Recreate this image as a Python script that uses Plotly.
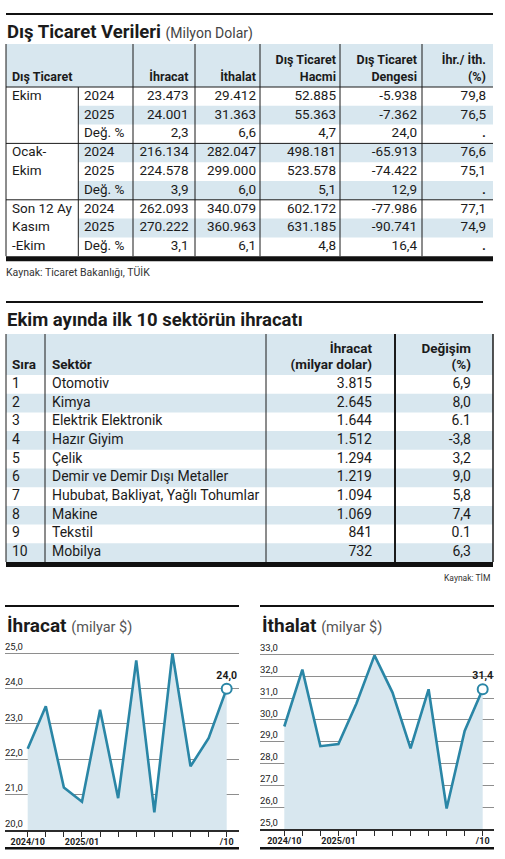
import plotly.graph_objects as go

W, H = 505, 859
FONT = "Roboto"
INK = "#1b1b1b"
BLUE = "#d8e7ef"
LINE = "#2a86a6"

# ---- Dış Ticaret Verileri (milyon dolar)
donem = ["Ekim", "", "", "Ocak-", "Ekim", "", "Son 12 Ay", "Kasım", "-Ekim"]
yil = ["2024", "2025", "Değ. %"] * 3
ihracat = ["23.473", "24.001", "2,3", "216.134", "224.578", "3,9", "262.093", "270.222", "3,1"]
ithalat = ["29.412", "31.363", "6,6", "282.047", "299.000", "6,0", "340.079", "360.963", "6,1"]
hacim = ["52.885", "55.363", "4,7", "498.181", "523.578", "5,1", "602.172", "631.185", "4,8"]
denge = ["-5.938", "-7.362", "24,0", "-65.913", "-74.422", "12,9", "-77.986", "-90.741", "16,4"]
ihr_ith = ["79,8", "76,5", ".", "76,6", "75,1", ".", "77,1", "74,9", "."]
baslik_ust = ["", "", "Dış Ticaret", "Dış Ticaret", "İhr./ İth."]
baslik_alt = ["İhracat", "İthalat", "Hacmi", "Dengesi", "(%)"]

# ---- Ekim ayında ilk 10 sektörün ihracatı
sira = ["1", "2", "3", "4", "5", "6", "7", "8", "9", "10"]
sektor = ["Otomotiv", "Kimya", "Elektrik Elektronik", "Hazır Giyim", "Çelik",
          "Demir ve Demir Dışı Metaller", "Hububat, Bakliyat, Yağlı Tohumlar",
          "Makine", "Tekstil", "Mobilya"]
sektor_ihracat = ["3.815", "2.645", "1.644", "1.512", "1.294", "1.219", "1.094", "1.069", "841", "732"]
sektor_degisim = ["6,9", "8,0", "6.1", "-3,8", "3,2", "9,0", "5,8", "7,4", "0.1", "6,3"]

# ---- aylık grafikler (milyar $)
ay_etiket = ["2024/10", "", "", "2025/01", "", "", "", "", "", "", "", "/10"]
ihracat_aylik = [22.3, 23.5, 21.2, 20.8, 23.4, 20.9, 24.8, 20.5, 25.0, 21.8, 22.6, 24.0]
ithalat_aylik = [29.7, 32.3, 28.8, 28.9, 30.75, 32.95, 31.25, 28.7, 31.4, 25.95, 29.5, 31.4]

fig = go.Figure()
shapes = []


def text(xs, ys, texts, pos, size, bold=False, color=INK):
    fig.add_trace(go.Scatter(
        x=xs, y=ys, text=texts, mode="text", textposition=pos,
        textfont=dict(family=FONT, size=size, color=color, weight="bold" if bold else "normal"),
        hoverinfo="skip", showlegend=False, xaxis="x", yaxis="y", cliponaxis=False))


def rect(x0, x1, y0, y1, color, layer="below"):
    shapes.append(dict(type="rect", xref="x", yref="y", x0=x0, x1=x1, y0=y0, y1=y1,
                       fillcolor=color, line=dict(width=0), layer=layer))


def seg(x0, x1, y0, y1, width=1, color=INK):
    shapes.append(dict(type="line", xref="x", yref="y", x0=x0, x1=x1, y0=y0, y1=y1,
                       line=dict(color=color, width=width), layer="above"))


# ================= table 1
L, R = 6, 493
t1_top, t1_head, t1_row = 44, 87, 18.8
t1_cols = [6, 78.3, 133, 195, 260, 340, 422]
t1_right = [188.5, 256, 336, 417, 486]
n1 = len(yil)
t1_bot = t1_head + n1 * t1_row
ys1 = [t1_head + t1_row * (i + 0.5) for i in range(n1)]

seg(L, R, 14, 14, 2.2, "#111")
rect(L, R, t1_top, t1_head, BLUE)
for i in range(n1):
    if i % 2 == 1:
        rect(t1_cols[1], R, t1_head + i * t1_row, t1_head + (i + 1) * t1_row, BLUE)
seg(L, R, t1_head, t1_head, 1)
for g in (3, 6):
    seg(L, R, t1_head + g * t1_row, t1_head + g * t1_row, 1)
for j, xc in enumerate(t1_cols):
    seg(xc, xc, t1_head if j == 1 else t1_top, t1_bot, 1)
rect(L, R, t1_bot, t1_bot + 5, "#111", "above")

text([12], [77.5], ["Dış Ticaret"], "middle right", 12.5, True)
text(t1_right, [61] * 5, baslik_ust, "middle left", 12.5, True)
text(t1_right, [77.5] * 5, baslik_alt, "middle left", 12.5, True)
text([12] * n1, ys1, donem, "middle right", 13.5)
text([84] * n1, ys1, yil, "middle right", 13.5)
for xr, col in zip(t1_right, [ihracat, ithalat, hacim, denge, ihr_ith]):
    text([xr] * n1, ys1, ["<b>.</b>" if v == "." else v for v in col], "middle left", 13.5)

# ================= table 2
t2_top, t2_head, t2_row = 334, 375, 18.7
t2_cols = [6, 45, 266, 395, 493]
n2 = len(sira)
t2_bot = t2_head + n2 * t2_row
ys2 = [t2_head + t2_row * (i + 0.5) for i in range(n2)]

seg(L, 483, 302, 302, 2.2, "#111")
rect(L, R, t2_top, t2_head, BLUE)
for i in range(n2):
    if i % 2 == 1:
        rect(L, R, t2_head + i * t2_row, t2_head + (i + 1) * t2_row, BLUE)
for xc, wd in zip(t2_cols, [1, 1, 1, 2, 1.5]):
    seg(xc, xc, t2_top, t2_bot, wd)
rect(L, R, t2_bot, t2_bot + 5, "#111", "above")

text([12, 52], [366, 366], ["Sıra", "Sektör"], "middle right", 13.5, True)
text([372, 471], [350, 350], ["İhracat", "Değişim"], "middle left", 13.5, True)
text([372, 471], [366, 366], ["(milyar dolar)", "(%)"], "middle left", 13.5, True)
text([12] * n2, ys2, sira, "middle right", 14)
text([52] * n2, ys2, sektor, "middle right", 14)
text([372] * n2, ys2, sektor_ihracat, "middle left", 14)
text([471] * n2, ys2, sektor_degisim, "middle left", 14)

annotations = [
    dict(xref="x", yref="y", x=5, y=32, xanchor="left", yanchor="middle", showarrow=False,
         text="<b>Dış Ticaret Verileri</b> <span style='font-size:14px;color:#444'>(Milyon Dolar)</span>",
         font=dict(family=FONT, size=18.5, color=INK)),
    dict(xref="x", yref="y", x=4, y=272, xanchor="left", yanchor="middle", showarrow=False,
         text="Kaynak: Ticaret Bakanlığı, TÜİK", font=dict(family=FONT, size=10.5, color="#333")),
    dict(xref="x", yref="y", x=5, y=320, xanchor="left", yanchor="middle", showarrow=False,
         text="<b>Ekim ayında ilk 10 sektörün ihracatı</b>", font=dict(family=FONT, size=18.5, color=INK)),
    dict(xref="x", yref="y", x=492, y=578, xanchor="right", yanchor="middle", showarrow=False,
         text="Kaynak: TİM", font=dict(family=FONT, size=8.5, color="#333")),
]

# ================= line charts
charts = [
    # values, title, plot px left/right, first/last point px, y range, y top px, y bottom px
    (ihracat_aylik, "İhracat", 5, 239, 27.7, 226.7, 20, 25, 653.3, 830),
    (ithalat_aylik, "İthalat", 260, 494, 284.3, 482.7, 25, 33, 654.3, 829.3),
]
for k, (vals, title, pl, pr, f0, f1, ylo, yhi, ytop_px, ybot_px) in enumerate(charts, start=2):
    n = len(vals)
    step = (f1 - f0) / (n - 1)
    xr = [(pl - f0) / step, (n - 1) + (pr - f1) / step]
    unit = (ybot_px - ytop_px) / (yhi - ylo)
    ymax = yhi + 18 / unit
    dom_top = ybot_px - (ymax - ylo) * unit
    xs = list(range(n))
    fig.add_trace(go.Scatter(
        x=xs, y=vals, mode="lines", line=dict(color=LINE, width=2.6),
        fill="tozeroy", fillcolor=BLUE, hoverinfo="skip", showlegend=False,
        xaxis=f"x{k}", yaxis=f"y{k}"))
    fig.add_trace(go.Scatter(
        x=[xs[-1]], y=[vals[-1]], mode="markers+text",
        marker=dict(size=10, color="white", line=dict(color=LINE, width=2)),
        text=["<b>" + f"{vals[-1]:.1f}".replace(".", ",") + "</b>"], textposition="top center",
        textfont=dict(family=FONT, size=10.5, color=INK),
        hoverinfo="skip", showlegend=False, cliponaxis=False,
        xaxis=f"x{k}", yaxis=f"y{k}"))
    fig.layout[f"xaxis{k}"] = dict(
        domain=[pl / W, pr / W], range=xr, anchor=f"y{k}", showgrid=False, zeroline=False,
        showline=True, linecolor="#2b2b2b", linewidth=2, ticks="outside", ticklen=5,
        tickcolor="#2b2b2b", tickwidth=1, tickvals=xs, ticktext=ay_etiket,
        ticklabelstandoff=-3,
        tickfont=dict(family=FONT, size=9, color=INK, weight="bold"), fixedrange=True)
    fig.layout[f"yaxis{k}"] = dict(
        domain=[1 - ybot_px / H, 1 - dom_top / H], range=[ylo, ymax], anchor=f"x{k}",
        tickvals=list(range(ylo, yhi + 1)), tickformat=".1f", showgrid=True,
        gridcolor="#8e8e8e", gridwidth=1,
        zeroline=False, showline=False, ticks="", ticklabelposition="inside top",
        ticklabelstandoff=-3,
        tickfont=dict(family=FONT, size=9.5, color="#222"), fixedrange=True)
    seg(pl, pr, 606, 606, 1.8, "#111")
    rect(pl, pr, 847, 849.5, "#111", "above")
    annotations.append(dict(
        xref="x", yref="y", x=pl, y=625, xanchor="left", yanchor="middle", showarrow=False,
        text=f"<b>{title}</b> <span style='font-size:14.5px;color:#555'>(milyar $)</span>",
        font=dict(family=FONT, size=19, color=INK)))

fig.update_layout(
    width=W, height=H, margin=dict(l=0, r=0, t=0, b=0),
    paper_bgcolor="white", plot_bgcolor="rgba(0,0,0,0)",
    separators=",.", hovermode=False, showlegend=False,
    xaxis=dict(domain=[0, 1], range=[0, W], visible=False, fixedrange=True),
    yaxis=dict(domain=[0, 1], range=[H, 0], visible=False, fixedrange=True),
    shapes=shapes, annotations=annotations,
)

fig.write_html("out.html", config={"displayModeBar": False},
               post_script="document.body.style.margin='0';")
